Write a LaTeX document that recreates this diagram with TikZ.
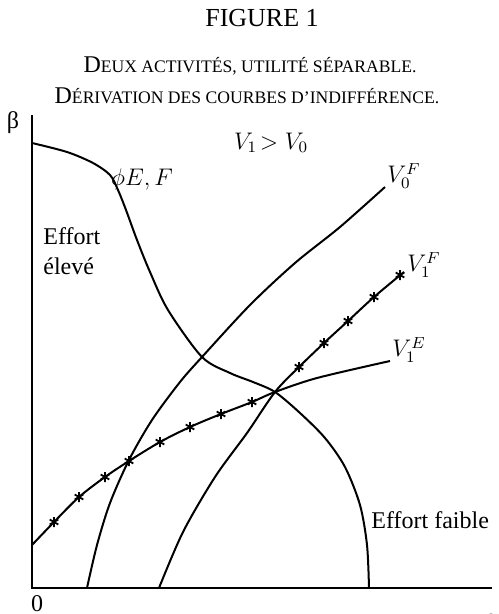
\documentclass[tikz,border=0pt]{standalone}
\usepackage{fontspec}
\setmainfont{Liberation Serif}
\newcommand{\petitcap}[1]{{\fontsize{8.8}{11}\selectfont #1}}
\tikzset{
	courbe/.style={line width=1pt},
	axe/.style={line width=1pt},
	etoile/.pic={\draw[line width=0.9pt] (0,-5) -- (0,5) (-4.3,-2.5) -- (4.3,2.5) (-4.3,2.5) -- (4.3,-2.5);},
	texte/.style={font=\fontsize{12}{14}\selectfont, inner sep=0pt}
}
\begin{document}
\begin{tikzpicture}[x=0.5pt,y=-0.5pt]
	\useasboundingbox (0,0) rectangle (498,614);

	% titres
	\node[font=\fontsize{13}{15}\selectfont] (titre) at (262,18) {FIGURE 1};
	\node[font=\fontsize{12}{14}\selectfont] (soustitre) at (250,66) {D\petitcap{EUX ACTIVITÉS, UTILITÉ SÉPARABLE.}};
	\node[font=\fontsize{12}{14}\selectfont] (derivation) at (247,96) {D\petitcap{ÉRIVATION DES COURBES D’INDIFFÉRENCE.}};

	% axes
	\coordinate (O) at (32,588);
	\coordinate (ytop) at (32,115);
	\coordinate (xend) at (492,588);
	\draw[axe] (ytop) -- (O) -- (xend);
	\node[texte] (beta) at (13,123) {β};
	\node[texte] (zero) at (37,604) {0};
	\node[texte] (alpha) at (492,620) {α};

	% frontiere phi E,F
	\draw[courbe] plot[smooth] coordinates {(32,143) (67,152) (93,163) (110,175) (118,190) (126,210) (137,240) (150,272) (168,310) (202,357) (230,373) (253,382) (275,392) (300,413) (325,438) (345,467) (360,505) (367,545) (369,588)};

	% V_0^F
	\draw[courbe] plot[smooth] coordinates {(87,588) (97,545) (110,503) (129,460) (152,420) (180,382) (202,357) (250,305) (295,263) (340,227) (385,187)};

	% V_1^F
	\draw[courbe] plot[smooth] coordinates {(159,588) (183,532) (215,477) (247,433) (275,392) (299,367) (324,343) (348,321) (374,297) (404,272)};
	\foreach \x/\y in {299/367, 324/343, 348/321, 374/297, 400/275}
		\pic at (\x,\y) {etoile};

	% V_1^E
	\draw[courbe] plot[smooth] coordinates {(32,545) (54,522) (79,497) (105,477) (129,461) (160,442) (190,427) (221,414) (252,402) (275,392) (317,378) (390,361)};
	\foreach \x/\y in {54/522, 79/497, 105/477, 129/461, 160/442, 190/427, 221/414, 252/402}
		\pic at (\x,\y) {etoile};

	% etiquettes
	\node[texte] (V10) at (271,143) {$V_1\!>V_0$};
	\node[texte] (phi) at (142,180) {$\phi E,F$};
	\node[texte, anchor=west, align=left] (eleve) at (43,251) {Effort\\[1pt]élevé};
	\node[texte, anchor=west] (faible) at (371,520) {Effort faible};
	\node[texte, anchor=west] (V0F) at (387,176) {$V_0^F$};
	\node[texte, anchor=west] (V1F) at (407,265) {$V_1^F$};
	\node[texte, anchor=west] (V1E) at (392,350) {$V_1^E$};
\end{tikzpicture}
\end{document}
